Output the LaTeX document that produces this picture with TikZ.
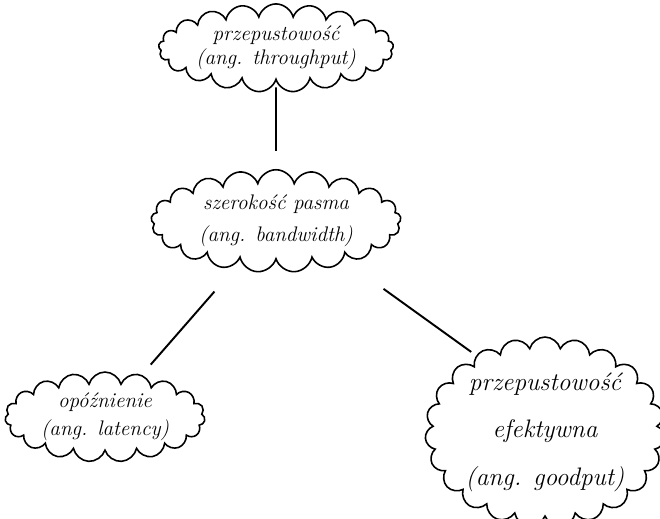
\documentclass[tikz,border=0pt]{standalone}
\usepackage{tikz}
\usetikzlibrary{shapes.symbols}

\tikzset{
  chmurka/.style={cloud, cloud puffs=#1, cloud ignores aspect, draw=black, line width=0.9pt,
    fill=white, align=center, inner sep=0pt, font=\itshape},
  chmurka/.default=16,
  laczenie/.style={draw=black, line width=1.1pt}
}

\begin{document}
\begin{tikzpicture}
  \useasboundingbox (0,0) rectangle (13.2,10.36);
  % chmurki
  \node[chmurka=21, minimum width=4.7cm, minimum height=1.75cm, font=\large\itshape] (thr) at (5.52,9.4)
    {przepustowość\\(ang. throughput)};
  \node[chmurka=21, minimum width=5.0cm, minimum height=2.05cm, font=\large\itshape] (bw) at (5.52,5.94)
    {szerokość pasma\\[4pt](ang. bandwidth)};
  \node[chmurka=19, minimum width=4.0cm, minimum height=1.75cm, font=\large\itshape] (lat) at (2.1,2.02)
    {opóźnienie\\[2pt](ang. latency)};
  \node[chmurka=23, minimum width=4.6cm, minimum height=3.45cm, font=\Large\itshape] (good) at (10.9,1.72)
    {przepustowość\\[9pt]efektywna\\[9pt](ang. goodput)};
  % polaczenia
  \draw[laczenie, shorten <=0.12cm, shorten >=0.36cm] (thr) -- (bw);
  \draw[laczenie, shorten <=0.8cm, shorten >=0.27cm] (bw) -- (lat);
  \draw[laczenie, shorten <=1.0cm, shorten >=0.12cm] (bw.-30) -- (good.132);
\end{tikzpicture}
\end{document}
